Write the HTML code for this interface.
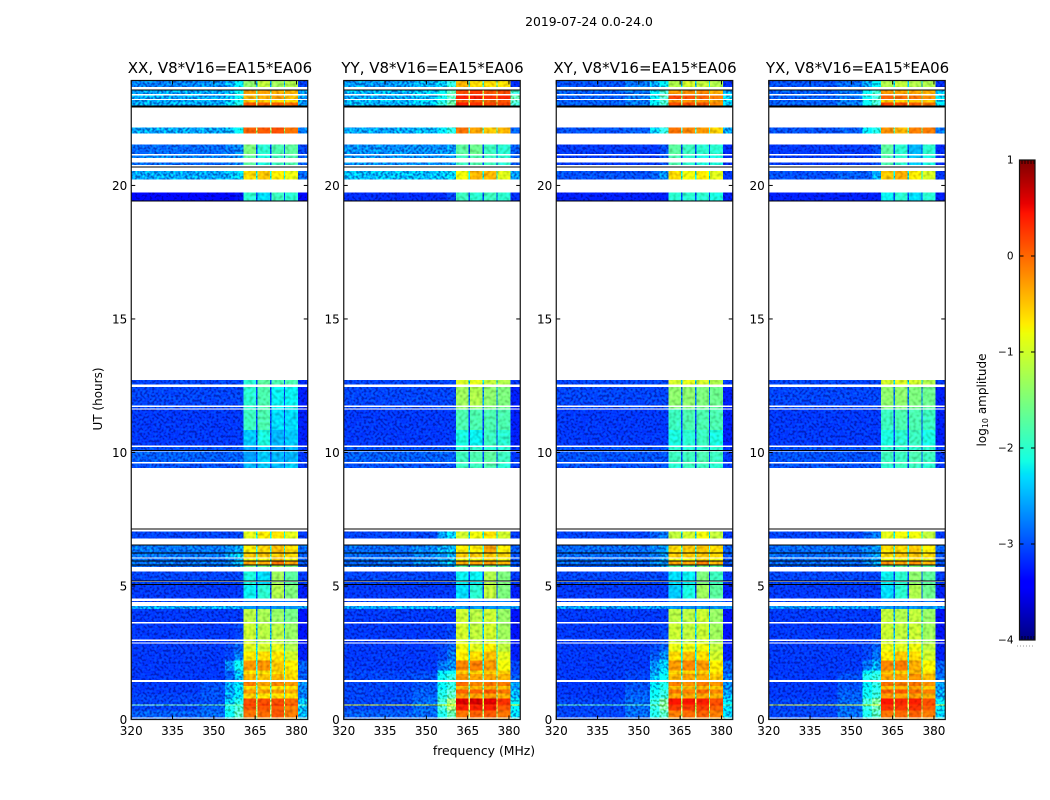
<!DOCTYPE html>
<html lang="en">
<head>
<meta charset="utf-8">
<title>2019-07-24 amplitude waterfall</title>
<style>
html,body{margin:0;padding:0;background:#fff;}
svg{display:block;}
text{font-family:"DejaVu Sans","Liberation Sans",sans-serif;fill:#000;}
</style>
</head>
<body>
<svg id="figure" xmlns="http://www.w3.org/2000/svg" width="1050" height="800" viewBox="0 0 1050 800">
  <defs>
    <filter id="speckle" filterUnits="userSpaceOnUse" x="0" y="0" width="1050" height="800" color-interpolation-filters="sRGB">
      <feTurbulence type="fractalNoise" baseFrequency="0.42" numOctaves="1" seed="7" result="t"/>
      <feColorMatrix in="t" type="matrix" values="3 0 0 0 -1.1  3 0 0 0 -1.1  3 0 0 0 -1.1  0 0 0 0 1" result="n"/>
      <feComposite in="SourceGraphic" in2="n" operator="arithmetic" k1="1" k2="0.75" k3="0" k4="0"/>
    </filter>
    <filter id="speckle-soft" filterUnits="userSpaceOnUse" x="0" y="0" width="1050" height="800" color-interpolation-filters="sRGB">
      <feTurbulence type="fractalNoise" baseFrequency="0.3" numOctaves="1" seed="11" result="t"/>
      <feColorMatrix in="t" type="matrix" values="0.7 0 0 0 0.15  0.7 0 0 0 0.15  0.7 0 0 0 0.15  0 0 0 0 1" result="n"/>
      <feComposite in="SourceGraphic" in2="n" operator="arithmetic" k1="1" k2="0.5" k3="0" k4="0"/>
    </filter>
  </defs>
  <text x="589" y="26" font-size="12.4" text-anchor="middle">2019-07-24 0.0-24.0</text>
  <g id="panels"></g>
  <text x="0" y="0" font-size="12" text-anchor="middle" transform="translate(102 399) rotate(-90)">UT (hours)</text>
  <text x="484" y="755" font-size="12.4" text-anchor="middle">frequency (MHz)</text>
  <g id="colorbar"></g>
  <text x="0" y="0" font-size="12" text-anchor="middle" transform="translate(986 400) rotate(-90)">log<tspan font-size="8" dy="2">10</tspan><tspan dy="-2"> amplitude</tspan></text>
</svg>
<script>
// ---- Data ----
const panelTitles = ["XX, V8*V16=EA15*EA06", "YY, V8*V16=EA15*EA06", "XY, V8*V16=EA15*EA06", "YX, V8*V16=EA15*EA06"];
const xTicks = [320, 335, 350, 365, 380];
const yTicks = [0, 5, 10, 15, 20];
const colorbarTicks = [1, 0, -1, -2, -3, -4];
// frequency column edges (MHz)
const freqEdges = [320, 345, 354, 357.5, 360.7, 365.3, 365.9, 370.4, 370.9, 375.5, 375.9, 380.6, 384];
// which value of a row feeds each column; -1 marks the dim notch between spectral windows
const columnSource = [0, 1, 2, 3, 4, -1, 5, -1, 6, -1, 7, 8];
// UT range of each integration block (hours)
const utStart = [23.69,23.42,23.24,23.11,23.00,21.95,21.18,21.03,20.77,20.22,19.42,12.55,11.76,11.64,10.85,10.26,10.09,9.64,9.42,6.78,6.25,6.07,5.96,5.81,5.71,5.21,5.07,4.54,4.40,4.14,3.65,3.00,2.88,2.55,2.21,1.84,1.70,1.48,1.25,1.13,0.97,0.79,0.56,0.52,0.34,0.07,0.00];
const utEnd   = [23.93,23.57,23.37,23.20,23.11,22.17,21.54,21.12,20.86,20.54,19.74,12.72,12.45,11.70,11.61,10.85,10.21,10.04,9.59,7.04,6.52,6.22,6.03,5.92,5.77,5.54,5.15,5.04,4.44,4.25,4.14,3.60,2.94,2.85,2.55,2.21,1.84,1.70,1.40,1.25,1.13,0.97,0.79,0.56,0.52,0.34,0.04];
// thin flagged (black) lines: UT centre of each
const flaggedLines = [23.58, 22.96, 20.70, 19.41, 10.07, 7.13, 6.53, 6.24, 5.94, 5.79, 5.18, 5.06];
// log10 amplitude per block: bg1,bg2,mid,shoulder,win1,win2,win3,win4,tail
const valuesXX = [
[-2.85,-2.8,-2.7,-2.3,-1.4,-1.1,-1.3,-1.2,-3.1],
[-2.7,-2.7,-2.6,-2.2,-0.3,-0.3,-0.35,-0.4,-2.75],
[-2.7,-2.7,-2.6,-2.2,-0.4,-0.35,-0.3,-0.45,-2.75],
[-2.7,-2.7,-2.6,-2.2,-0.5,-0.5,-0.55,-0.6,-2.75],
[-2.7,-2.7,-2.5,-2.1,0.1,0.05,0.05,0.0,-2.75],
[-2.7,-2.7,-2.6,-2.2,0.05,0.1,0.15,-0.05,-2.85],
[-2.95,-2.95,-2.9,-2.85,-1.5,-2.0,-1.8,-1.7,-3.1],
[-2.85,-2.85,-2.85,-2.8,-1.7,-2.1,-1.9,-1.8,-3.0],
[-2.95,-2.95,-2.9,-2.85,-1.7,-2.1,-1.9,-1.8,-3.0],
[-2.7,-2.7,-2.65,-2.5,-0.6,-0.5,-0.7,-0.85,-2.95],
[-3.35,-3.35,-3.35,-3.3,-2.0,-2.3,-1.9,-2.0,-3.35],
[-3.1,-3.1,-3.1,-3.1,-2.0,-1.7,-1.8,-1.8,-3.2],
[-3.1,-3.1,-3.1,-3.1,-2.0,-1.8,-2.2,-2.2,-3.25],
[-3.1,-3.1,-3.1,-3.1,-2.0,-1.8,-2.2,-2.2,-3.25],
[-3.15,-3.15,-3.15,-3.15,-1.9,-1.8,-2.3,-2.3,-3.25],
[-3.15,-3.15,-3.15,-3.15,-2.4,-2.1,-2.5,-2.4,-3.25],
[-3.05,-3.05,-3.05,-3.05,-2.6,-2.4,-2.6,-2.5,-3.15],
[-3.0,-3.0,-3.0,-3.0,-2.6,-2.4,-2.5,-2.5,-3.15],
[-3.05,-3.05,-3.05,-3.05,-2.5,-2.4,-2.5,-2.4,-3.15],
[-3.1,-3.1,-3.1,-3.1,-0.9,-0.7,-0.65,-0.9,-3.15],
[-2.9,-2.9,-2.8,-2.7,-0.7,-0.55,-0.45,-0.6,-2.95],
[-2.9,-2.9,-2.7,-2.5,-0.5,-0.5,-0.5,-0.6,-3.0],
[-2.95,-2.95,-2.85,-2.7,-0.8,-0.8,-0.5,-0.8,-3.0],
[-2.9,-2.9,-2.8,-2.6,-0.3,-0.35,-0.05,-0.3,-3.0],
[-2.95,-2.95,-2.85,-2.75,-1.5,-1.5,-1.3,-1.5,-3.05],
[-3.1,-3.1,-3.1,-3.1,-2.1,-2.3,-1.3,-1.7,-3.15],
[-3.1,-3.1,-3.1,-3.1,-2.1,-2.3,-1.3,-1.7,-3.15],
[-3.15,-3.15,-3.15,-3.15,-2.2,-2.0,-1.2,-1.5,-3.25],
[-3.1,-3.1,-3.1,-3.1,-2.8,-2.8,-2.8,-2.8,-3.1],
[-2.7,-2.7,-2.7,-2.7,-2.65,-2.65,-2.65,-2.65,-2.75],
[-3.15,-3.15,-3.15,-3.15,-1.15,-1.25,-1.35,-1.55,-3.3],
[-3.15,-3.15,-3.15,-3.1,-1.05,-1.15,-1.15,-1.35,-3.3],
[-3.15,-3.15,-3.15,-3.1,-1.05,-1.15,-1.15,-1.35,-3.3],
[-3.15,-3.15,-3.1,-3.0,-0.9,-1.0,-0.9,-1.2,-3.25],
[-3.15,-3.15,-3.1,-2.85,-0.7,-0.6,-0.65,-1.0,-3.25],
[-3.15,-3.15,-2.8,-2.2,-0.25,-0.2,-0.5,-0.7,-3.0],
[-3.15,-3.15,-3.0,-2.6,-0.6,-0.65,-0.6,-0.65,-3.05],
[-3.15,-3.15,-3.0,-2.6,-0.4,-0.5,-0.4,-0.6,-3.0],
[-3.15,-3.05,-2.7,-2.4,-0.1,-0.3,-0.15,-0.25,-2.8],
[-3.15,-3.05,-2.7,-2.5,-0.6,-0.55,-0.6,-0.6,-2.9],
[-3.15,-3.05,-2.7,-2.4,-0.25,-0.3,-0.3,-0.35,-2.8],
[-3.1,-3.05,-2.7,-2.4,-0.55,-0.65,-0.6,-0.6,-2.9],
[-3.1,-3.05,-2.5,-2.1,0.15,0.15,0.15,0.0,-2.6],
[-1.6,-1.6,-1.6,-1.6,0.3,0.3,0.3,0.2,-1.6],
[-3.1,-3.0,-2.1,-1.9,0.1,0.1,0.1,-0.1,-2.6],
[-3.0,-2.95,-2.2,-1.8,-0.05,0.0,0.1,-0.1,-2.6],
[-3.0,-2.95,-2.1,-1.7,-0.4,-0.4,-0.3,-0.5,-2.1]
];
const valuesYY = [
[-2.75,-2.65,-2.5,-2.0,-0.4,-0.6,-0.6,-0.65,-3.2],
[-2.65,-2.55,-2.2,-1.75,0.15,0.25,0.1,0.15,-1.9],
[-2.7,-2.6,-2.2,-1.75,0.4,0.4,0.3,0.35,-1.7],
[-2.65,-2.55,-2.1,-1.75,0.05,0.1,0.0,0.1,-1.8],
[-2.65,-2.55,-2.0,-1.65,0.4,0.3,0.2,0.2,-1.9],
[-2.7,-2.6,-2.4,-2.05,-0.05,-0.3,-0.5,-0.4,-3.0],
[-2.8,-2.8,-2.8,-2.75,-1.7,-1.6,-1.9,-2.0,-3.0],
[-2.8,-2.8,-2.8,-2.75,-1.9,-1.8,-1.9,-2.0,-3.0],
[-2.8,-2.8,-2.8,-2.75,-1.9,-1.8,-1.9,-2.0,-3.0],
[-2.6,-2.6,-2.6,-2.45,-0.8,-0.4,-0.4,-0.9,-2.75],
[-3.2,-3.2,-3.2,-3.1,-1.9,-2.0,-1.9,-2.0,-3.2],
[-3.1,-3.1,-3.1,-3.1,-0.95,-0.9,-1.1,-1.2,-3.15],
[-3.1,-3.1,-3.1,-3.1,-1.3,-1.2,-1.4,-1.5,-3.25],
[-3.1,-3.1,-3.1,-3.1,-1.4,-1.4,-1.5,-1.6,-3.25],
[-3.15,-3.15,-3.15,-3.15,-1.8,-1.8,-1.8,-1.8,-3.25],
[-3.15,-3.15,-3.15,-3.15,-2.1,-2.2,-1.9,-2.0,-3.25],
[-3.05,-3.05,-3.05,-3.05,-2.0,-2.0,-2.0,-2.0,-3.15],
[-3.0,-3.0,-3.0,-3.0,-1.9,-1.8,-1.7,-1.9,-3.15],
[-3.05,-3.05,-3.05,-3.05,-1.9,-1.9,-1.8,-2.0,-3.15],
[-3.1,-3.1,-2.7,-2.5,-1.0,-0.8,-0.65,-1.0,-3.15],
[-2.95,-2.85,-2.7,-2.6,-0.7,-0.7,-0.3,-0.7,-3.0],
[-2.95,-2.85,-2.75,-2.65,-0.5,-0.5,-0.5,-0.6,-3.05],
[-2.95,-2.85,-2.75,-2.65,-0.8,-0.8,-0.6,-0.8,-3.05],
[-2.95,-2.85,-2.75,-2.65,-0.35,-0.3,-0.25,-0.4,-3.05],
[-2.95,-2.95,-2.85,-2.75,-1.7,-1.7,-1.5,-1.7,-3.05],
[-3.1,-3.1,-3.1,-3.1,-2.2,-2.2,-1.2,-1.5,-3.15],
[-3.1,-3.1,-3.1,-3.1,-2.2,-2.2,-1.2,-1.5,-3.15],
[-3.15,-3.15,-3.15,-3.15,-2.3,-2.0,-1.1,-1.5,-3.25],
[-3.1,-3.1,-3.1,-3.1,-2.8,-2.8,-2.8,-2.8,-3.1],
[-2.7,-2.7,-2.7,-2.7,-2.65,-2.65,-2.65,-2.65,-2.75],
[-3.15,-3.15,-3.15,-3.15,-1.05,-1.15,-1.05,-1.35,-3.3],
[-3.15,-3.15,-3.15,-3.1,-1.0,-1.1,-1.0,-1.3,-3.3],
[-3.15,-3.15,-3.15,-3.1,-1.0,-1.1,-1.0,-1.3,-3.3],
[-3.15,-3.15,-3.1,-3.0,-0.8,-0.9,-0.7,-1.1,-3.25],
[-3.15,-3.15,-3.1,-2.9,-0.7,-0.6,-0.45,-0.9,-3.25],
[-3.15,-3.15,-2.9,-2.8,-0.15,-0.1,-0.25,-0.8,-3.1],
[-3.1,-3.1,-2.4,-2.2,-0.45,-0.55,-0.5,-0.55,-3.1],
[-3.1,-3.05,-2.2,-2.0,-0.25,-0.3,-0.3,-0.4,-3.0],
[-3.1,-3.05,-2.2,-2.0,0.0,-0.15,-0.05,-0.1,-2.7],
[-3.1,-3.05,-2.3,-2.0,-0.4,-0.4,-0.35,-0.45,-2.8],
[-3.1,-3.0,-2.1,-1.8,0.05,0.05,0.1,-0.05,-2.6],
[-3.1,-3.0,-2.1,-1.8,-0.25,-0.3,-0.25,-0.35,-2.7],
[-3.1,-2.95,-1.9,-1.4,0.6,0.65,0.6,0.3,-2.3],
[-0.9,-0.9,-0.9,-0.8,0.3,0.3,0.3,0.2,-0.9],
[-3.1,-2.95,-1.9,-1.4,0.4,0.4,0.4,0.1,-2.3],
[-3.0,-2.95,-2.1,-1.7,-0.05,0.05,0.1,-0.05,-2.5],
[-3.0,-2.9,-1.9,-1.5,-0.3,-0.3,-0.3,-0.4,-2.0]
];
const valuesXY = [
[-3.05,-2.9,-2.7,-2.3,-1.2,-1.0,-1.1,-1.2,-3.2],
[-3.0,-2.9,-2.3,-1.9,-0.25,-0.2,-0.15,-0.35,-2.7],
[-3.0,-2.9,-2.3,-1.8,0.2,0.15,0.05,-0.1,-2.4],
[-3.0,-2.9,-2.3,-1.9,-0.2,-0.2,-0.2,-0.3,-2.5],
[-3.0,-2.9,-2.3,-1.9,0.15,0.15,0.1,-0.1,-2.5],
[-3.05,-3.0,-2.5,-2.0,-0.05,-0.15,-0.25,-0.55,-2.7],
[-3.15,-3.15,-3.15,-3.05,-1.7,-1.9,-2.0,-2.0,-3.2],
[-3.15,-3.15,-3.15,-3.05,-1.8,-2.0,-2.1,-2.1,-3.2],
[-3.15,-3.15,-3.15,-3.05,-1.8,-2.0,-2.1,-2.1,-3.2],
[-3.05,-3.05,-3.0,-2.8,-0.6,-0.8,-0.7,-0.9,-3.15],
[-3.25,-3.25,-3.25,-3.25,-2.0,-2.0,-2.0,-2.1,-3.25],
[-3.1,-3.1,-3.1,-3.1,-1.0,-0.9,-1.0,-1.2,-3.15],
[-3.1,-3.1,-3.1,-3.1,-1.4,-1.4,-1.5,-1.6,-3.25],
[-3.1,-3.1,-3.1,-3.1,-1.5,-1.5,-1.6,-1.7,-3.25],
[-3.15,-3.15,-3.15,-3.15,-1.9,-1.8,-1.8,-1.8,-3.25],
[-3.15,-3.15,-3.15,-3.15,-2.1,-2.0,-1.9,-2.1,-3.25],
[-3.05,-3.05,-3.05,-3.05,-2.0,-2.0,-2.0,-2.0,-3.15],
[-3.05,-3.05,-3.05,-3.05,-1.9,-1.9,-1.8,-1.9,-3.15],
[-3.05,-3.05,-3.05,-3.05,-2.0,-1.9,-1.9,-2.0,-3.15],
[-3.1,-3.1,-3.0,-2.9,-1.1,-1.0,-0.8,-1.1,-3.15],
[-2.95,-2.95,-2.85,-2.75,-0.6,-0.5,-0.5,-0.6,-3.0],
[-2.95,-2.95,-2.85,-2.75,-0.5,-0.5,-0.5,-0.6,-3.05],
[-2.95,-2.95,-2.85,-2.75,-0.8,-0.8,-0.6,-0.8,-3.05],
[-2.95,-2.95,-2.85,-2.75,-0.3,-0.3,-0.1,-0.4,-3.05],
[-3.0,-3.0,-2.9,-2.8,-1.7,-1.7,-1.5,-1.7,-3.05],
[-3.1,-3.1,-3.1,-3.1,-2.3,-2.2,-1.5,-1.9,-3.15],
[-3.1,-3.1,-3.1,-3.1,-2.3,-2.2,-1.5,-1.9,-3.15],
[-3.15,-3.15,-3.15,-3.15,-2.4,-2.1,-1.3,-1.7,-3.25],
[-3.1,-3.1,-3.1,-3.1,-2.8,-2.8,-2.8,-2.8,-3.1],
[-2.75,-2.75,-2.75,-2.75,-2.65,-2.65,-2.65,-2.65,-2.8],
[-3.15,-3.15,-3.15,-3.15,-1.15,-1.15,-1.05,-1.35,-3.3],
[-3.15,-3.15,-3.15,-3.1,-1.05,-1.1,-1.05,-1.3,-3.3],
[-3.15,-3.15,-3.15,-3.1,-1.05,-1.1,-1.05,-1.3,-3.3],
[-3.15,-3.15,-3.1,-3.0,-0.85,-0.85,-0.8,-1.1,-3.25],
[-3.15,-3.15,-3.0,-2.8,-0.6,-0.45,-0.6,-1.0,-3.25],
[-3.15,-3.15,-2.8,-2.5,-0.25,-0.15,-0.25,-0.7,-3.0],
[-3.15,-3.1,-2.7,-2.4,-0.55,-0.55,-0.5,-0.6,-3.0],
[-3.15,-3.1,-2.6,-2.2,-0.4,-0.3,-0.35,-0.5,-2.9],
[-3.15,-3.05,-2.4,-2.1,-0.1,-0.2,-0.1,-0.2,-2.8],
[-3.15,-3.05,-2.4,-2.1,-0.45,-0.45,-0.4,-0.5,-2.8],
[-3.15,-3.0,-2.2,-2.0,-0.05,-0.1,0.0,-0.15,-2.7],
[-3.15,-3.0,-2.2,-2.0,-0.3,-0.35,-0.3,-0.4,-2.7],
[-3.1,-2.95,-2.0,-1.6,0.45,0.45,0.4,0.15,-2.4],
[-1.7,-1.7,-1.6,-1.4,0.3,0.3,0.3,0.2,-1.7],
[-3.1,-2.95,-2.0,-1.6,0.25,0.25,0.25,0.05,-2.4],
[-3.1,-2.95,-2.1,-1.8,-0.1,0.0,0.05,-0.1,-2.5],
[-3.0,-2.9,-1.9,-1.6,-0.35,-0.35,-0.3,-0.4,-2.0]
];
const valuesYX = [
[-3.05,-2.95,-2.7,-2.3,-1.2,-1.1,-1.2,-1.2,-3.2],
[-3.0,-2.9,-2.2,-1.9,-0.25,-0.3,-0.3,-0.35,-2.6],
[-3.0,-2.9,-2.2,-1.9,0.05,0.0,-0.05,-0.2,-2.4],
[-3.0,-2.9,-2.2,-1.9,-0.5,-0.5,-0.5,-0.5,-2.5],
[-3.0,-2.9,-2.2,-1.9,0.2,0.15,0.05,-0.05,-2.4],
[-3.05,-3.0,-2.3,-2.1,-0.2,-0.4,-0.1,-0.1,-2.9],
[-3.15,-3.15,-3.15,-3.05,-1.7,-2.0,-2.5,-2.0,-3.2],
[-3.15,-3.15,-3.15,-3.05,-1.8,-2.0,-2.4,-2.1,-3.2],
[-3.15,-3.15,-3.15,-3.05,-1.8,-2.0,-2.4,-2.1,-3.2],
[-3.05,-3.0,-3.0,-2.7,-0.5,-0.35,-0.7,-0.95,-3.15],
[-3.25,-3.25,-3.25,-3.25,-2.2,-2.0,-2.3,-2.0,-3.25],
[-3.1,-3.1,-3.1,-3.1,-1.0,-0.95,-1.0,-1.2,-3.15],
[-3.1,-3.1,-3.1,-3.1,-1.4,-1.4,-1.5,-1.6,-3.25],
[-3.1,-3.1,-3.1,-3.1,-1.5,-1.5,-1.6,-1.7,-3.25],
[-3.15,-3.15,-3.15,-3.15,-1.9,-1.8,-1.8,-1.9,-3.25],
[-3.15,-3.15,-3.15,-3.15,-2.1,-2.0,-1.9,-2.1,-3.25],
[-3.05,-3.05,-3.05,-3.05,-2.0,-2.0,-2.0,-2.0,-3.15],
[-3.05,-3.05,-3.05,-3.05,-1.9,-1.9,-1.8,-1.9,-3.15],
[-3.05,-3.05,-3.05,-3.05,-2.0,-1.9,-1.9,-2.0,-3.15],
[-3.1,-3.1,-3.0,-2.9,-0.9,-0.8,-0.8,-1.1,-3.15],
[-2.95,-2.95,-2.85,-2.75,-0.6,-0.6,-0.5,-0.7,-3.0],
[-2.95,-2.95,-2.85,-2.75,-0.6,-0.5,-0.5,-0.6,-3.05],
[-2.95,-2.95,-2.85,-2.75,-0.8,-0.8,-0.6,-0.8,-3.05],
[-2.95,-2.95,-2.85,-2.75,-0.2,-0.3,-0.2,-0.4,-3.05],
[-3.0,-3.0,-2.9,-2.8,-1.7,-1.7,-1.5,-1.7,-3.05],
[-3.1,-3.1,-3.1,-3.1,-2.2,-2.0,-1.4,-1.7,-3.15],
[-3.1,-3.1,-3.1,-3.1,-2.2,-2.0,-1.4,-1.7,-3.15],
[-3.15,-3.15,-3.15,-3.15,-2.3,-2.0,-1.2,-1.6,-3.25],
[-3.1,-3.1,-3.1,-3.1,-2.8,-2.8,-2.8,-2.8,-3.1],
[-2.75,-2.75,-2.75,-2.75,-2.65,-2.65,-2.65,-2.65,-2.8],
[-3.15,-3.15,-3.15,-3.15,-1.1,-1.2,-1.1,-1.35,-3.3],
[-3.15,-3.15,-3.15,-3.1,-1.05,-1.1,-1.05,-1.3,-3.3],
[-3.15,-3.15,-3.15,-3.1,-1.05,-1.1,-1.05,-1.3,-3.3],
[-3.15,-3.15,-3.1,-3.0,-0.85,-0.9,-0.8,-1.1,-3.25],
[-3.15,-3.15,-3.1,-2.9,-0.7,-0.5,-0.6,-1.0,-3.25],
[-3.15,-3.15,-2.9,-2.7,-0.15,-0.1,-0.35,-0.75,-3.0],
[-3.15,-3.1,-2.3,-2.1,-0.45,-0.5,-0.4,-0.6,-3.0],
[-3.15,-3.05,-2.1,-2.0,-0.3,-0.3,-0.2,-0.45,-2.9],
[-3.15,-3.05,-2.3,-2.0,-0.05,-0.1,-0.05,-0.2,-2.7],
[-3.15,-3.05,-2.3,-2.1,-0.4,-0.35,-0.3,-0.5,-2.8],
[-3.15,-3.0,-2.2,-2.0,0.05,0.1,0.0,-0.1,-2.7],
[-3.15,-3.0,-2.2,-2.0,-0.25,-0.3,-0.25,-0.4,-2.7],
[-3.1,-2.95,-1.9,-1.6,0.45,0.35,0.4,0.15,-2.4],
[-1.0,-1.0,-1.0,-1.0,0.3,0.3,0.3,0.2,-1.0],
[-3.1,-2.95,-2.0,-1.7,0.3,0.25,0.3,0.05,-2.4],
[-3.1,-2.95,-2.1,-1.8,-0.05,0.0,0.05,-0.1,-2.5],
[-3.0,-2.9,-1.9,-1.6,-0.35,-0.3,-0.3,-0.4,-2.0]
];
const panelValues = [valuesXX, valuesYY, valuesXY, valuesYX];

// ---- Layout and scales ----
const SVG_NS = "http://www.w3.org/2000/svg";
const panelLeft = [131.25, 343.75, 556.25, 768.75];
const panelWidth = 176.5;
const plotTop = 80.5;
const plotBottom = 719.5;
const UT_MAX = 23.93;
const FREQ_MIN = 320;
const FREQ_MAX = 384.1;
const VMIN = -4;
const VMAX = 1;
function xScale(freq, left) { return left + (freq - FREQ_MIN) / (FREQ_MAX - FREQ_MIN) * panelWidth; }
function yScale(ut) { return plotBottom - ut / UT_MAX * (plotBottom - plotTop); }
function piece(t, pts) {
  for (let i = 1; i < pts.length; i++) {
    if (t <= pts[i][0]) {
      const a = pts[i - 1], b = pts[i];
      return a[1] + (b[1] - a[1]) * (t - a[0]) / (b[0] - a[0]);
    }
  }
  return pts[pts.length - 1][1];
}
function jet(v) {
  const t = Math.max(0, Math.min(1, (v - VMIN) / (VMAX - VMIN)));
  const r = piece(t, [[0,0],[0.35,0],[0.66,1],[0.89,1],[1,0.5]]);
  const g = piece(t, [[0,0],[0.125,0],[0.375,1],[0.64,1],[0.91,0],[1,0]]);
  const b = piece(t, [[0,0.5],[0.11,1],[0.34,1],[0.65,0],[1,0]]);
  return "rgb(" + Math.round(r * 255) + "," + Math.round(g * 255) + "," + Math.round(b * 255) + ")";
}
function mk(tag, attrs, parent) {
  const el = document.createElementNS(SVG_NS, tag);
  for (const k in attrs) el.setAttribute(k, attrs[k]);
  parent.appendChild(el);
  return el;
}

// ---- Panels ----
const panelsRoot = document.getElementById("panels");
panelTitles.forEach(function (title, p) {
  const left = panelLeft[p];
  const right = left + panelWidth;
  const table = panelValues[p];
  const g = mk("g", {}, panelsRoot);
  
  

  const heatBg = mk("g", { filter: "url(#speckle)", "shape-rendering": "crispEdges" }, g);
  
  
  const heatWin = mk("g", { filter: "url(#speckle-soft)", "shape-rendering": "crispEdges" }, g);
  
  
  table.forEach(function (row, r) {
    const yTop = yScale(utEnd[r]);
    const yBot = yScale(utStart[r]);
    const bandMin = Math.min(row[4], row[5], row[6], row[7]);
    columnSource.forEach(function (src, c) {
      const v = src < 0 ? Math.max(bandMin - 1.3, -3.1) : row[src];
      const x0 = xScale(freqEdges[c], left);
      const x1 = xScale(freqEdges[c + 1], left);
      const isWindow = src >= 4 && src <= 7;
      const cell = mk("rect", { x: x0, y: yTop, width: x1 - x0, height: yBot - yTop, fill: jet(v) }, isWindow ? heatWin : heatBg);
      
      
    });
  });

  flaggedLines.forEach(function (ut) {
    const line = mk("rect", { x: left, y: yScale(ut) - 0.5, width: panelWidth, height: 1, fill: "#000", "shape-rendering": "crispEdges" }, g);
    
    
  });
  const heavy = mk("rect", { x: left, y: yScale(23.0), width: panelWidth, height: 2, fill: "#000", "shape-rendering": "crispEdges" }, g);
  
  

  xTicks.forEach(function (f) {
    const x = xScale(f, left);
    const t1 = mk("line", { x1: x, x2: x, y1: plotBottom, y2: plotBottom - 4, stroke: "#000", "stroke-width": 1 }, g);
    
    
    const t2 = mk("line", { x1: x, x2: x, y1: plotTop, y2: plotTop + 4, stroke: "#000", "stroke-width": 1 }, g);
    
    
    const lab = mk("text", { x: x, y: 735, "font-size": 12, "text-anchor": "middle" }, g);
    lab.textContent = String(f);
    
    
  });
  yTicks.forEach(function (u) {
    const y = yScale(u);
    const t1 = mk("line", { x1: left, x2: left + 4, y1: y, y2: y, stroke: "#000", "stroke-width": 1 }, g);
    
    
    const t2 = mk("line", { x1: right, x2: right - 4, y1: y, y2: y, stroke: "#000", "stroke-width": 1 }, g);
    
    
    const lab = mk("text", { x: left - 4, y: y + 4.5, "font-size": 12, "text-anchor": "end" }, g);
    lab.textContent = String(u);
    
    
  });
  const frame = mk("rect", { x: left, y: plotTop, width: panelWidth, height: plotBottom - plotTop, fill: "none", stroke: "#111", "stroke-width": 1.2 }, g);
  
  
  const ttl = mk("text", { x: left + panelWidth / 2 + 0.5, y: 73, "font-size": 15, "text-anchor": "middle" }, g);
  ttl.textContent = title;
  
  
});

// ---- Colorbar ----
const cbRoot = document.getElementById("colorbar");
const cbLeft = 1019.5, cbRight = 1035, cbTop = 160, cbBottom = 640;
function cbY(v) { return cbBottom - (v - VMIN) / (VMAX - VMIN) * (cbBottom - cbTop); }
const cbSteps = 240;
for (let i = 0; i < cbSteps; i++) {
  const v0 = VMIN + (VMAX - VMIN) * i / cbSteps;
  const v1 = VMIN + (VMAX - VMIN) * (i + 1) / cbSteps;
  const seg = mk("rect", { x: cbLeft, y: cbY(v1), width: cbRight - cbLeft, height: cbY(v0) - cbY(v1) + 0.5, fill: jet((v0 + v1) / 2), "shape-rendering": "crispEdges" }, cbRoot);
  
  
}
colorbarTicks.forEach(function (v) {
  const y = cbY(v);
  const t1 = mk("line", { x1: cbLeft, x2: cbLeft + 4, y1: y, y2: y, stroke: "#000", "stroke-width": 1 }, cbRoot);
  
  
  const t2 = mk("line", { x1: cbRight, x2: cbRight - 4, y1: y, y2: y, stroke: "#000", "stroke-width": 1 }, cbRoot);
  
  
  const lab = mk("text", { x: 1013.5, y: y + 3.5, "font-size": 10.5, "text-anchor": "end" }, cbRoot);
  lab.textContent = String(v).replace("-", "\u2212");
  
  
});
[1022, 1025, 1028, 1031, 1034].forEach(function (x) {
  const a = mk("line", { x1: x, x2: x, y1: cbTop, y2: cbTop + 4, stroke: "#000", "stroke-width": 0.8 }, cbRoot);
  
  
  const b = mk("line", { x1: x, x2: x, y1: cbBottom, y2: cbBottom - 4, stroke: "#000", "stroke-width": 0.8 }, cbRoot);
  
  
});
const cbFrame = mk("rect", { x: cbLeft, y: cbTop, width: cbRight - cbLeft, height: cbBottom - cbTop, fill: "none", stroke: "#111", "stroke-width": 1.2 }, cbRoot);


const cbDots = mk("line", { x1: 1017, x2: 1035, y1: 646, y2: 646, stroke: "#999", "stroke-width": 1, "stroke-dasharray": "1 2" }, cbRoot);


</script>
</body>
</html>
